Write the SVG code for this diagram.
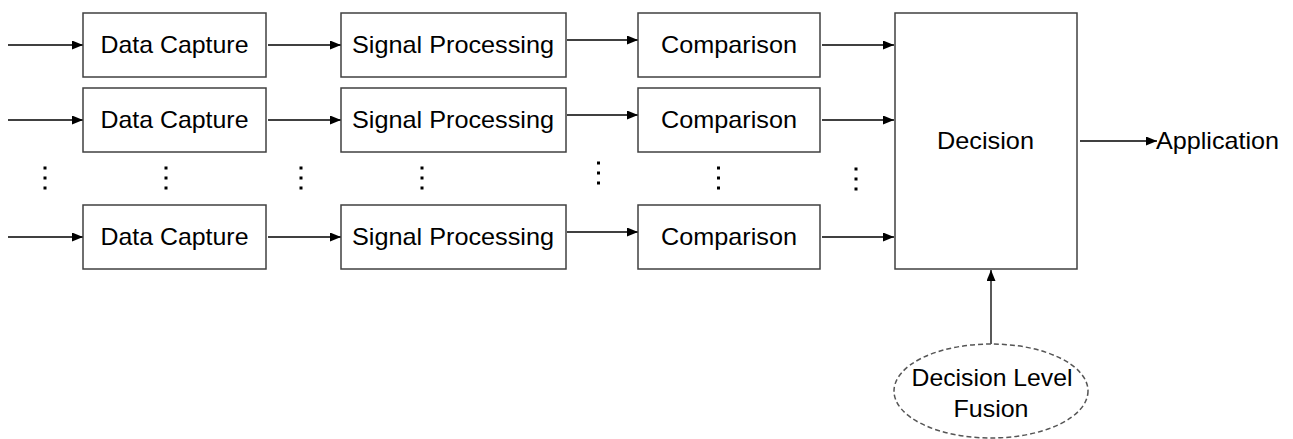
<svg xmlns="http://www.w3.org/2000/svg" width="1293" height="439" viewBox="0 0 1293 439">
  <style>
    .box { fill: #ffffff; stroke: #404040; stroke-width: 1.5; }
    .lbl { font-family: "Liberation Sans", Arial, sans-serif; font-size: 24px; fill: #000000; }
    .mid { text-anchor: middle; }
    .wire { stroke: #000000; stroke-width: 1.3; fill: none; marker-end: url(#arrow); }
    .dot { fill: #000000; }
    .fusion { fill: #ffffff; stroke: #555555; stroke-width: 1.5; stroke-dasharray: 5 3; }
  </style>
  <defs>
    <marker id="arrow" markerUnits="userSpaceOnUse" markerWidth="12" markerHeight="10" refX="11" refY="4.5" orient="auto">
      <path d="M0,0 L11,4.5 L0,9 Z" fill="#000000"/>
    </marker>
  </defs>

  <rect width="1293" height="439" fill="#ffffff"/>

  <!-- connectors -->
  <g id="connectors">
    <!-- inputs -->
    <line class="wire" x1="8" y1="45" x2="83" y2="45"/>
    <line class="wire" x1="8" y1="120" x2="83" y2="120"/>
    <line class="wire" x1="8" y1="237" x2="83" y2="237"/>
    <!-- data capture to signal processing -->
    <line class="wire" x1="268" y1="45" x2="341" y2="45"/>
    <line class="wire" x1="268" y1="120" x2="341" y2="120"/>
    <line class="wire" x1="268" y1="237" x2="341" y2="237"/>
    <!-- signal processing to comparison -->
    <line class="wire" x1="567" y1="40" x2="638" y2="40"/>
    <line class="wire" x1="567" y1="115" x2="638" y2="115"/>
    <line class="wire" x1="567" y1="232" x2="638" y2="232"/>
    <!-- comparison to decision -->
    <line class="wire" x1="822" y1="45" x2="894" y2="45"/>
    <line class="wire" x1="822" y1="120" x2="894" y2="120"/>
    <line class="wire" x1="822" y1="237" x2="894" y2="237"/>
    <!-- decision to application -->
    <line class="wire" x1="1080" y1="141" x2="1157" y2="141"/>
    <!-- fusion to decision -->
    <line class="wire" x1="991" y1="344" x2="991" y2="270"/>
  </g>

  <!-- vertical ellipses between rows -->
  <g id="ellipses">
    <rect class="dot" x="43.5" y="166.5" width="3" height="3"/>
    <rect class="dot" x="43.5" y="176.5" width="3" height="3"/>
    <rect class="dot" x="43.5" y="186.5" width="3" height="3"/>
    <rect class="dot" x="164.5" y="166.5" width="3" height="3"/>
    <rect class="dot" x="164.5" y="176.5" width="3" height="3"/>
    <rect class="dot" x="164.5" y="186.5" width="3" height="3"/>
    <rect class="dot" x="299.5" y="166.5" width="3" height="3"/>
    <rect class="dot" x="299.5" y="176.5" width="3" height="3"/>
    <rect class="dot" x="299.5" y="186.5" width="3" height="3"/>
    <rect class="dot" x="420.5" y="166.5" width="3" height="3"/>
    <rect class="dot" x="420.5" y="176.5" width="3" height="3"/>
    <rect class="dot" x="420.5" y="186.5" width="3" height="3"/>
    <rect class="dot" x="597" y="161.5" width="3" height="3"/>
    <rect class="dot" x="597" y="171.5" width="3" height="3"/>
    <rect class="dot" x="597" y="181.5" width="3" height="3"/>
    <rect class="dot" x="717" y="166.5" width="3" height="3"/>
    <rect class="dot" x="717" y="176.5" width="3" height="3"/>
    <rect class="dot" x="717" y="186.5" width="3" height="3"/>
    <rect class="dot" x="854.5" y="167.5" width="3" height="3"/>
    <rect class="dot" x="854.5" y="177.5" width="3" height="3"/>
    <rect class="dot" x="854.5" y="187.5" width="3" height="3"/>
  </g>

  <!-- row 1 -->
  <g id="capture1">
    <rect class="box" x="83" y="13" width="183" height="64"/>
    <text class="lbl mid" x="174.5" y="53" textLength="148" lengthAdjust="spacingAndGlyphs">Data Capture</text>
  </g>
  <g id="signal1">
    <rect class="box" x="341" y="13" width="225" height="64"/>
    <text class="lbl mid" x="453" y="53" textLength="202" lengthAdjust="spacingAndGlyphs">Signal Processing</text>
  </g>
  <g id="compare1">
    <rect class="box" x="638" y="13" width="182" height="64"/>
    <text class="lbl mid" x="729" y="53" textLength="136" lengthAdjust="spacingAndGlyphs">Comparison</text>
  </g>

  <!-- row 2 -->
  <g id="capture2">
    <rect class="box" x="83" y="88" width="183" height="64"/>
    <text class="lbl mid" x="174.5" y="128" textLength="148" lengthAdjust="spacingAndGlyphs">Data Capture</text>
  </g>
  <g id="signal2">
    <rect class="box" x="341" y="88" width="225" height="64"/>
    <text class="lbl mid" x="453" y="128" textLength="202" lengthAdjust="spacingAndGlyphs">Signal Processing</text>
  </g>
  <g id="compare2">
    <rect class="box" x="638" y="88" width="182" height="64"/>
    <text class="lbl mid" x="729" y="128" textLength="136" lengthAdjust="spacingAndGlyphs">Comparison</text>
  </g>

  <!-- row n -->
  <g id="capture3">
    <rect class="box" x="83" y="205" width="183" height="64"/>
    <text class="lbl mid" x="174.5" y="245" textLength="148" lengthAdjust="spacingAndGlyphs">Data Capture</text>
  </g>
  <g id="signal3">
    <rect class="box" x="341" y="205" width="225" height="64"/>
    <text class="lbl mid" x="453" y="245" textLength="202" lengthAdjust="spacingAndGlyphs">Signal Processing</text>
  </g>
  <g id="compare3">
    <rect class="box" x="638" y="205" width="182" height="64"/>
    <text class="lbl mid" x="729" y="245" textLength="136" lengthAdjust="spacingAndGlyphs">Comparison</text>
  </g>

  <!-- decision -->
  <g id="decision">
    <rect class="box" x="895" y="13" width="182" height="256"/>
    <text class="lbl mid" x="985.5" y="149" textLength="97" lengthAdjust="spacingAndGlyphs">Decision</text>
  </g>

  <!-- output -->
  <g id="application">
    <text class="lbl" x="1156" y="149" textLength="123" lengthAdjust="spacingAndGlyphs">Application</text>
  </g>

  <!-- fusion -->
  <g id="fusion">
    <ellipse class="fusion" cx="991" cy="391" rx="97" ry="47"/>
    <text class="lbl mid" x="992" y="386" textLength="161" lengthAdjust="spacingAndGlyphs">Decision Level</text>
    <text class="lbl mid" x="991" y="417" textLength="75" lengthAdjust="spacingAndGlyphs">Fusion</text>
  </g>
</svg>
